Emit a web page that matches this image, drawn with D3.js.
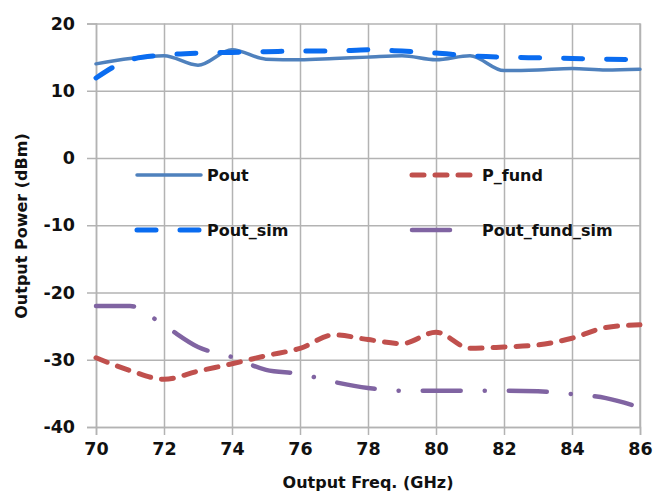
<!DOCTYPE html>
<html>
<head>
<meta charset="utf-8">
<script src="https://cdn.jsdelivr.net/npm/d3@7"></script>
<style>
  body { margin: 0; background: #fff; }
  text { font-family: "DejaVu Sans", sans-serif; font-weight: bold; fill: #111; }
</style>
</head>
<body>
<svg id="chart"></svg>
<script>
// data (GHz / dBm)
const freq = [70, 71, 72, 73, 74, 75, 76, 77, 78, 79, 80, 81, 82, 83, 84, 85, 86];
const pout = [14.0, 14.8, 15.2, 13.8, 16.1, 14.7, 14.6, 14.8, 15.0, 15.2, 14.6, 15.2, 13.0, 13.1, 13.3, 13.1, 13.2];
const poutSim = [11.9, 14.6, 15.3, 15.6, 15.7, 15.8, 15.9, 15.9, 16.1, 15.9, 15.6, 15.2, 15.0, 14.9, 14.8, 14.7, 14.6];
const pFund = [-29.7, -31.6, -32.9, -31.7, -30.6, -29.4, -28.3, -26.3, -27.0, -27.6, -25.9, -28.3, -28.1, -27.8, -26.8, -25.2, -24.8];
const poutFundSim = [-22.0, -22.0, -24.9, -28.1, -29.6, -31.5, -32.1, -33.3, -34.2, -34.6, -34.6, -34.6, -34.6, -34.7, -35.1, -35.7, -37.1];

const xTicks = [70, 72, 74, 76, 78, 80, 82, 84, 86];
const yTicks = [-40, -30, -20, -10, 0, 10, 20];

const series = [
    { name: "Pout", values: pout, color: "#4f81bd", width: 3.5, dash: null, lx: 137, ly: 175, len: 64 },
    { name: "Pout_sim", values: poutSim, color: "#0a6cf0", width: 5, dash: "19,24", lx: 137, ly: 230, len: 64 },
    { name: "P_fund", values: pFund, color: "#c0504d", width: 5, dash: "12,11", lx: 412, ly: 175, len: 62 },
    { name: "Pout_fund_sim", values: poutFundSim, color: "#8064a2", width: 4.5, dash: "38,24,0.1,24", lx: 412, ly: 230, len: 45 }
];

const W = 654, H = 494;
const margin = { top: 23.5, right: 14, bottom: 67, left: 96 };

const svg = d3.select("#chart").attr("width", W).attr("height", H);

const x = d3.scaleLinear().domain([70, 86]).range([margin.left, W - margin.right]);
const y = d3.scaleLinear().domain([-40, 20]).range([H - margin.bottom, margin.top]);

const gridColor = "#b3b3b3";

// grid
svg.append("g")
    .attr("transform", `translate(0,${y(-40)})`)
    .call(d3.axisBottom(x).tickValues(xTicks).tickSize(-(y(-40) - y(20))).tickFormat(""))
    .call(g => g.select(".domain").remove())
    .call(g => g.selectAll("line").attr("stroke", gridColor).attr("stroke-width", 1.5));

svg.append("g")
    .attr("transform", `translate(${x(70)},0)`)
    .call(d3.axisLeft(y).tickValues(yTicks).tickSize(-(x(86) - x(70))).tickFormat(""))
    .call(g => g.select(".domain").remove())
    .call(g => g.selectAll("line").attr("stroke", gridColor).attr("stroke-width", 1.5));

// axes
const xAxis = svg.append("g")
    .attr("transform", `translate(0,${y(-40)})`)
    .call(d3.axisBottom(x).tickValues(xTicks).tickSize(8).tickPadding(8).tickFormat(d => String(d)));
xAxis.select(".domain").attr("stroke", gridColor).attr("stroke-width", 1.5);
xAxis.selectAll("line").attr("stroke", gridColor).attr("stroke-width", 1.5);
xAxis.selectAll("text").style("font-size", "17.5px").style("font-family", "DejaVu Sans").style("font-weight", "bold").attr("fill", "#111");

const yAxis = svg.append("g")
    .attr("transform", `translate(${x(70)},0)`)
    .call(d3.axisLeft(y).tickValues(yTicks).tickSize(9).tickPadding(12).tickFormat(d => String(d)));
yAxis.select(".domain").attr("stroke", gridColor).attr("stroke-width", 1.5);
yAxis.selectAll("line").attr("stroke", gridColor).attr("stroke-width", 1.5);
yAxis.selectAll("text").style("font-size", "17.5px").style("font-family", "DejaVu Sans").style("font-weight", "bold").attr("fill", "#111");

// right border
svg.append("line")
    .attr("x1", x(86)).attr("x2", x(86)).attr("y1", y(20)).attr("y2", y(-40))
    .attr("stroke", gridColor).attr("stroke-width", 1.5);

// lines
const line = d3.line()
    .x((d, i) => x(freq[i]))
    .y(d => y(d))
    .curve(d3.curveMonotoneX);

series.forEach(s => {
    svg.append("path")
        .datum(s.values)
        .attr("d", line)
        .attr("fill", "none")
        .attr("stroke", s.color)
        .attr("stroke-width", s.width)
        .attr("stroke-linecap", "round")
        .attr("stroke-dasharray", s.dash);
});

// legend
series.forEach(s => {
    svg.append("line")
        .attr("x1", s.lx).attr("x2", s.lx + s.len)
        .attr("y1", s.ly).attr("y2", s.ly)
        .attr("stroke", s.color)
        .attr("stroke-width", s.width)
        .attr("stroke-linecap", "round")
        .attr("stroke-dasharray", s.dash);
    svg.append("text")
        .attr("x", s.lx + 70)
        .attr("y", s.ly)
        .attr("dy", "0.35em")
        .style("font-size", "16px")
        .text(s.name);
});

// axis titles
svg.append("text")
    .attr("x", (x(70) + x(86)) / 2)
    .attr("y", 488)
    .attr("text-anchor", "middle")
    .style("font-size", "16px")
    .text("Output Freq. (GHz)");

svg.append("text")
    .attr("transform", `translate(27,226) rotate(-90)`)
    .attr("text-anchor", "middle")
    .style("font-size", "16px")
    .text("Output Power (dBm)");
</script>
</body>
</html>
